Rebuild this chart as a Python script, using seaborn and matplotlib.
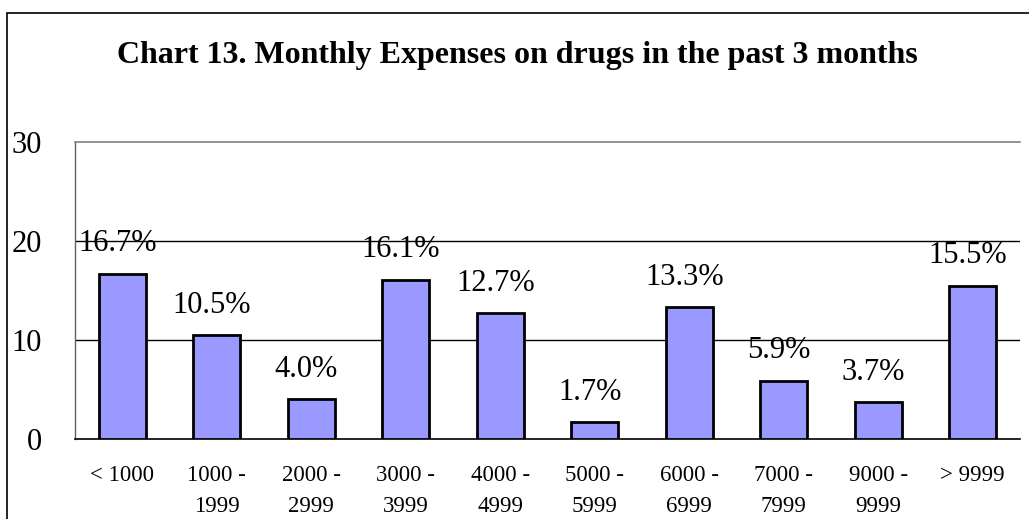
import matplotlib as mpl
import matplotlib.pyplot as plt
import pandas as pd
import seaborn as sns
from matplotlib.patches import Rectangle

categories = ["< 1000", "1000 -\n1999", "2000 -\n2999", "3000 -\n3999",
              "4000 -\n4999", "5000 -\n5999", "6000 -\n6999", "7000 -\n7999",
              "9000 -\n9999", "> 9999"]
percent = [16.7, 10.5, 4.0, 16.1, 12.7, 1.7, 13.3, 5.9, 3.7, 15.5]
y_ticks = [0, 10, 20, 30]
title = "Chart 13. Monthly Expenses on drugs in the past 3 months"

BAR = "#9999FF"

sns.set_style("white")
mpl.rcParams["font.family"] = ["Liberation Serif", "DejaVu Serif"]
mpl.rcParams["text.color"] = "black"
mpl.rcParams["xtick.color"] = "black"
mpl.rcParams["ytick.color"] = "black"

df = pd.DataFrame({"range": categories, "pct": percent})

fig = plt.figure(figsize=(10.29, 5.19), dpi=100)
ax = fig.add_axes([75 / 1029, 1 - 439 / 519, 945 / 1029, 297 / 519])

sns.barplot(data=df, x="range", y="pct", color=BAR, saturation=1,
            edgecolor="black", linewidth=2, width=0.5, ax=ax, zorder=3)

ax.set_ylim(0, 30)
ax.set_xlim(-0.5, len(categories) - 0.5)
ax.set_yticks(y_ticks)
ax.set_yticklabels([str(t) for t in y_ticks], fontsize=22)
ax.tick_params(axis="y", length=0, pad=24)
ax.tick_params(axis="x", length=0, labelsize=16.5, pad=19)
for lbl in ax.get_xticklabels():
    lbl.set_linespacing(1.6)
ax.set_xlabel("")
ax.set_ylabel("")

# minor ticks between categories
ax.set_xticks([i + 0.5 for i in range(len(categories))], minor=True)
ax.tick_params(axis="x", which="minor", direction="in", length=5,
               width=1, color="black")

for y in [10, 20]:
    ax.axhline(y, color="black", linewidth=1, zorder=1)

ax.spines["top"].set_color("#808080")
ax.spines["top"].set_linewidth(1.2)
ax.spines["left"].set_color("#606060")
ax.spines["left"].set_linewidth(1)
ax.spines["right"].set_visible(False)
ax.spines["bottom"].set_color("black")
ax.spines["bottom"].set_linewidth(1.2)

for i, v in enumerate(percent):
    ax.annotate(f"{v:.1f}%", (i, v), xytext=(-3.5, 21.5),
                textcoords="offset points", ha="center", va="center",
                fontsize=22, zorder=4)

fig.text(517 / 1029, 1 - 55 / 519, title, ha="center", va="center",
         fontsize=23, fontweight="bold")

# outer chart frame (left and top edges visible)
fig.patches.append(Rectangle((7 / 1029, -0.1), 1.1, 1 - 13 / 519 + 0.1,
                             transform=fig.transFigure, fill=False,
                             edgecolor="black", linewidth=1.2))

fig.savefig("out.png", dpi=100)
